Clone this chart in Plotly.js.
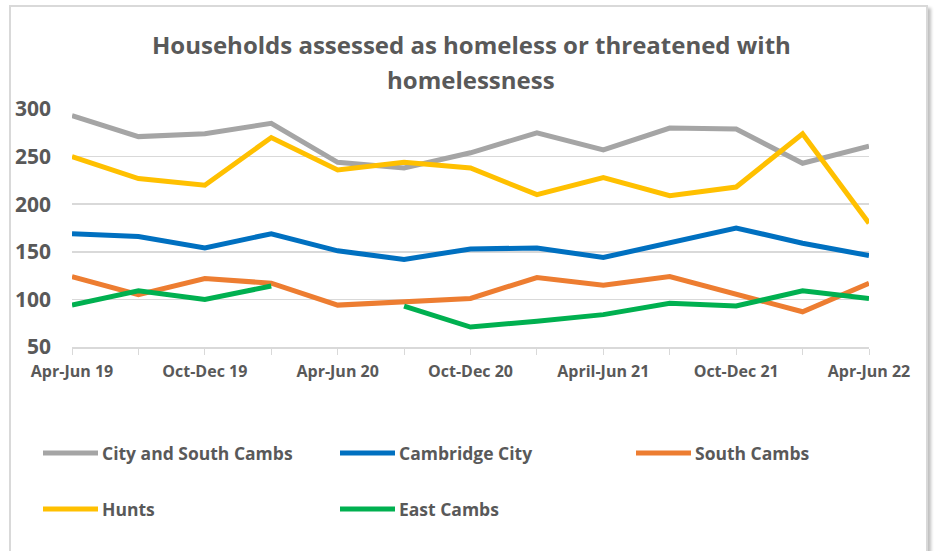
<!DOCTYPE html>
<html>
<head>
<meta charset="utf-8">
<script src="https://cdn.plot.ly/plotly-3.0.1.min.js"></script>
<style>
  html, body { margin: 0; padding: 0; background: #ffffff; overflow: hidden; }
  #wrap { position: relative; width: 934px; height: 551px; }
  #chart { position: absolute; left: 0; top: 0; width: 934px; height: 551px; }
  #frame { position: absolute; left: 9px; top: 5px; width: 915px; height: 580px;
           border: 2px solid #d9d9d9; box-shadow: 3px 3px 3px rgba(0,0,0,0.25);
           pointer-events: none; box-sizing: content-box; }
</style>
</head>
<body>
<div id="wrap">
  <div id="chart"></div>
  <div id="frame"></div>
</div>
<script>
// ---- data ----
var quarters = ["Apr-Jun 19", "Jul-Sep 19", "Oct-Dec 19", "Jan-Mar 20", "Apr-Jun 20", "Jul-Sep 20",
                "Oct-Dec 20", "Jan-Mar 21", "April-Jun 21", "Jul-Sep 21", "Oct-Dec 21", "Jan-Mar 22", "Apr-Jun 22"];
var tickLabels = ["Apr-Jun 19", "", "Oct-Dec 19", "", "Apr-Jun 20", "", "Oct-Dec 20", "",
                  "April-Jun 21", "", "Oct-Dec 21", "", "Apr-Jun 22"];
var cityAndSouthCambs = [293, 271, 274, 285, 244, 238, 254, 275, 257, 280, 279, 243, 261];
var cambridgeCity     = [169, 166, 154, 169, 151, 142, 153, 154, 144, 159, 175, 159, 146];
var southCambs        = [124, 105, 122, 117,  94,  98, 101, 123, 115, 124, 105,  87, 117];
var hunts             = [250, 227, 220, 270, 236, 244, 238, 210, 228, 209, 218, 274, 180];
var eastCambs         = [ 94, 109, 100, 114, null, 93,  71,  77,  84,  96,  93, 109, 101];
var seriesNames  = ["City and South Cambs", "Cambridge City", "South Cambs", "Hunts", "East Cambs"];
var seriesValues = [cityAndSouthCambs, cambridgeCity, southCambs, hunts, eastCambs];
var seriesColors = ["#A5A5A5", "#0070C0", "#ED7D31", "#FFC000", "#00B050"];
var titleLines = ["Households assessed as homeless or threatened with", "homelessness"];

// ---- layout geometry (pixels) ----
var W = 934, H = 551;
var L = 72, R = 869, T = 109, B = 347;
function px(x) { return (x - L) / (R - L); }
function py(y) { return (B - y) / (B - T); }

var textColor = "#595959";
var fontFam = "'Open Sans', 'DejaVu Sans', sans-serif";

var traces = seriesNames.map(function (n, i) {
  return {
    type: "scatter", mode: "lines", name: n,
    x: quarters, y: seriesValues[i],
    line: { color: seriesColors[i], width: 5, shape: "linear" },
    connectgaps: false, showlegend: false, hoverinfo: "skip"
  };
});

// custom legend laid out like the original (3 columns, 2 rows)
var legendCols = [43, 340, 636];
var legendRows = [453, 509];
var swatchLen = 55;
var shapes = [], annotations = [];
seriesNames.forEach(function (n, i) {
  var c = i % 3, r = Math.floor(i / 3);
  var x0 = legendCols[c], yy = legendRows[r];
  shapes.push({ type: "line", xref: "paper", yref: "paper",
    x0: px(x0), x1: px(x0 + swatchLen), y0: py(yy), y1: py(yy),
    line: { color: seriesColors[i], width: 5 } });
  annotations.push({ xref: "paper", yref: "paper", x: px(x0 + swatchLen + 2), y: py(yy),
    xanchor: "left", yanchor: "middle", text: n, showarrow: false,
    font: { family: fontFam, size: 17.5, color: textColor, weight: "bold" } });
});

// title, two centred lines
var titleY = [44, 79];
titleLines.forEach(function (t, i) {
  annotations.push({ xref: "paper", yref: "paper", x: px(471), y: py(titleY[i]),
    xanchor: "center", yanchor: "middle", text: t, showarrow: false,
    font: { family: fontFam, size: 24, color: textColor, weight: "bold" } });
});

var layout = {
  width: W, height: H,
  margin: { l: L, r: W - R, t: T, b: H - B, pad: 0 },
  paper_bgcolor: "#ffffff", plot_bgcolor: "#ffffff",
  showlegend: false,
  xaxis: {
    type: "category", categoryorder: "array", categoryarray: quarters,
    range: [0, quarters.length - 1],
    tickmode: "array", tickvals: quarters, ticktext: tickLabels,
    ticks: "outside", ticklen: 6, tickcolor: "#d9d9d9", tickwidth: 1,
    showline: true, linecolor: "#d9d9d9", linewidth: 2,
    showgrid: false, zeroline: false, ticklabelstandoff: 3,
    tickfont: { family: fontFam, size: 16, color: textColor, weight: "bold" }
  },
  yaxis: {
    range: [50, 300], tickmode: "array", tickvals: [50, 100, 150, 200, 250, 300],
    showgrid: true, gridcolor: "#d9d9d9", gridwidth: 1.5,
    showline: false, zeroline: false, ticks: "", ticklabelstandoff: 20,
    tickfont: { family: fontFam, size: 21, color: textColor, weight: "bold" }
  },
  shapes: shapes,
  annotations: annotations
};

Plotly.newPlot("chart", traces, layout, { staticPlot: true, displayModeBar: false });
</script>
</body>
</html>
